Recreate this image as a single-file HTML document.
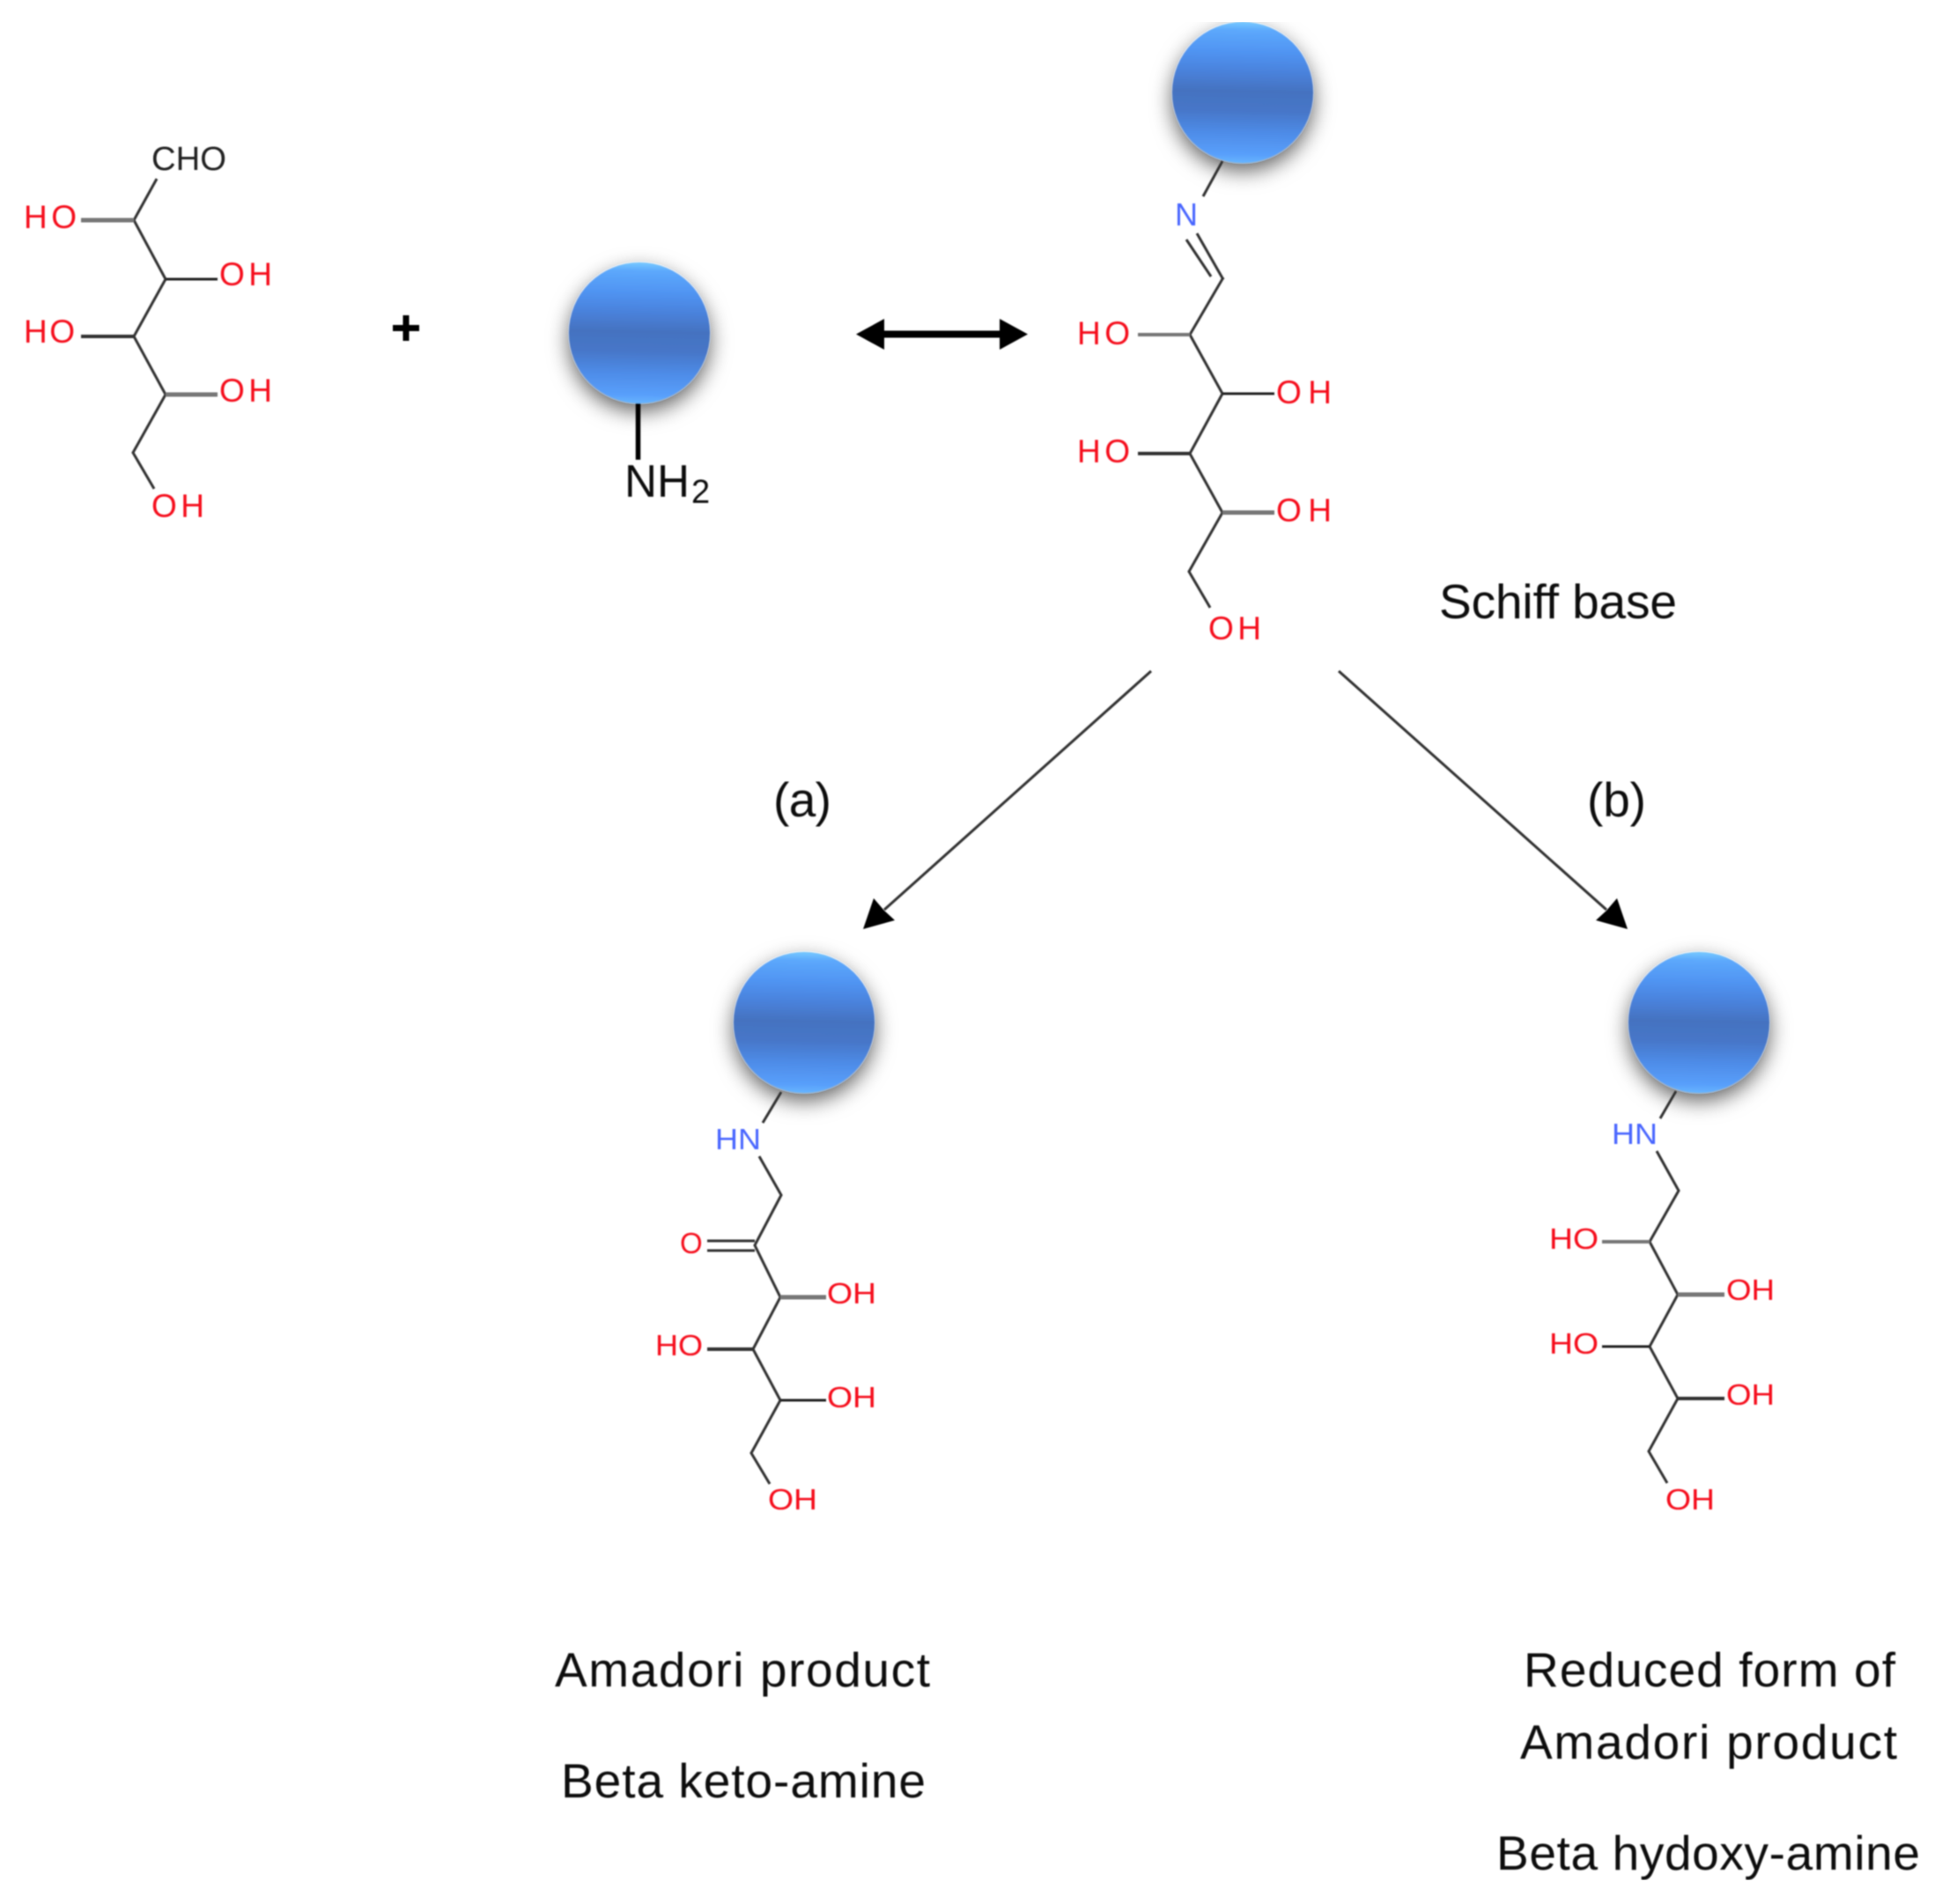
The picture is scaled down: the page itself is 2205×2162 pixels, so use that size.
<!DOCTYPE html>
<html><head><meta charset="utf-8"><title>Amadori reaction diagram</title>
<style>
html,body{margin:0;padding:0;background:#fff}
svg{display:block}
text{font-family:"Liberation Sans",Arial,sans-serif}
.r{fill:#f5101a;font-size:37px}
.r2{fill:#f5101a;font-size:33px}
.b{fill:#4a66ff;font-size:36px}
.b2{fill:#4a66ff;font-size:33px}
.l{fill:#111;font-size:55px}
.m{fill:none;stroke:#333;stroke-width:3}
.t{fill:none;stroke:#777;stroke-width:5}
.n{fill:none;stroke:#222;stroke-width:3}
</style></head><body>
<svg xmlns="http://www.w3.org/2000/svg" width="2205" height="2162" viewBox="0 0 2205 2162">
<defs>
<linearGradient id="g" x1="0.02" y1="0" x2="0" y2="1">
<stop offset="0" stop-color="#72c4ff"/>
<stop offset=".05" stop-color="#5ca8fc"/>
<stop offset=".2" stop-color="#5094f2"/>
<stop offset=".34" stop-color="#4a82dc"/>
<stop offset=".48" stop-color="#4472c0"/>
<stop offset=".62" stop-color="#4676c8"/>
<stop offset=".78" stop-color="#4e8ce8"/>
<stop offset=".93" stop-color="#589ffb"/>
<stop offset="1" stop-color="#68b8ff"/>
</linearGradient>
<filter id="s" x="-40%" y="-40%" width="180%" height="190%">
<feDropShadow dx="0" dy="9" stdDeviation="12" flood-color="#000" flood-opacity=".62"/>
</filter>
<filter id="bl" x="0" y="0" width="100%" height="100%"><feGaussianBlur stdDeviation="0.75"/></filter>
</defs>
<rect width="2205" height="2162" fill="#fff"/>
<g filter="url(#bl)">

<!-- Sugar 1 -->
<polyline class="m" points="178,203 152,250 188,317 152,382 188,448 151,514 175,555"/>
<line class="t" x1="92" y1="250" x2="152" y2="250"/>
<line class="n" x1="188" y1="317" x2="247" y2="317"/>
<line class="m" style="stroke-width:4" x1="92" y1="382" x2="152" y2="382"/>
<line class="t" x1="188" y1="448" x2="247" y2="448"/>
<text x="172" y="193" font-size="38" fill="#222" textLength="85" lengthAdjust="spacingAndGlyphs">CHO</text>
<text class="r" x="27" y="259" textLength="60">HO</text>
<text class="r" x="249" y="324" textLength="60">OH</text>
<text class="r" x="27" y="389" textLength="58">HO</text>
<text class="r" x="249" y="456" textLength="60">OH</text>
<text class="r" x="172" y="587" textLength="60">OH</text>
<rect x="446" y="369" width="30" height="7" fill="#000"/>
<rect x="457.500" y="358" width="7" height="29" fill="#000"/>

<!-- Sphere A -->
<circle cx="726" cy="378" r="80" fill="url(#g)" filter="url(#s)"/>
<line x1="724.500" y1="458" x2="724.500" y2="522" stroke="#000" stroke-width="5.500"/>
<text x="709" y="564" font-size="52" fill="#111" textLength="74" lengthAdjust="spacingAndGlyphs">NH</text>
<text x="785" y="571" font-size="38" fill="#111">2</text>

<!-- double arrow -->
<line x1="995" y1="379.500" x2="1145" y2="379.500" stroke="#000" stroke-width="8"/>
<polygon points="972,379.500 1004,362 1004,397" fill="#000"/>
<polygon points="1167,379.500 1135,362 1135,397" fill="#000"/>

<!-- Sphere B / Schiff base -->
<circle cx="1411" cy="105" r="80" fill="url(#g)" filter="url(#s)"/>
<line class="m" x1="1388" y1="183" x2="1366" y2="223"/>
<text class="b" x="1334" y="256" textLength="26" lengthAdjust="spacingAndGlyphs">N</text>
<line class="m" x1="1359" y1="265" x2="1389" y2="317.500"/>
<line class="m" x1="1347" y1="272" x2="1375" y2="314"/>
<polyline class="m" points="1389,315 1351,380 1388,447 1351,515 1388,582 1350,649 1374,690"/>
<line class="t" style="stroke-width:4" x1="1292" y1="380" x2="1351" y2="380"/>
<line class="n" x1="1388" y1="447" x2="1447" y2="447"/>
<line class="m" style="stroke-width:4" x1="1292" y1="515" x2="1351" y2="515"/>
<line class="t" x1="1388" y1="582" x2="1447" y2="582"/>
<text class="r" x="1223" y="391" textLength="60">HO</text>
<text class="r" x="1449" y="458" textLength="63">OH</text>
<text class="r" x="1223" y="525" textLength="60">HO</text>
<text class="r" x="1449" y="592" textLength="63">OH</text>
<text class="r" x="1372" y="726" textLength="60">OH</text>
<text class="l" x="1634" y="702" textLength="270">Schiff base</text>

<!-- branching arrows -->
<line x1="1307" y1="762" x2="1004" y2="1033" stroke="#333" stroke-width="3"/>
<polygon points="980,1055 992,1020 1004,1034 1016,1045" fill="#000"/>
<line x1="1520" y1="762" x2="1824" y2="1033" stroke="#333" stroke-width="3"/>
<polygon points="1848,1055 1836,1020 1824,1034 1812,1045" fill="#000"/>
<text class="l" x="878" y="927" textLength="66">(a)</text>
<text class="l" x="1802" y="927" textLength="67">(b)</text>

<!-- Sphere C / Amadori -->
<circle cx="913" cy="1161" r="80" fill="url(#g)" filter="url(#s)"/>
<line class="m" x1="887" y1="1240" x2="866" y2="1275"/>
<text class="b2" x="812" y="1305" textLength="52" lengthAdjust="spacingAndGlyphs">HN</text>
<polyline class="m" points="862,1313 887,1357 857,1414 886,1473 855,1532 886,1590 853,1650 874,1685"/>
<line class="m" x1="803" y1="1409" x2="857" y2="1409"/>
<line class="m" x1="803" y1="1420" x2="857" y2="1420"/>
<line class="t" x1="886" y1="1473" x2="938" y2="1473"/>
<line class="m" style="stroke-width:4" x1="803" y1="1532" x2="855" y2="1532"/>
<line class="n" x1="886" y1="1590" x2="938" y2="1590"/>
<text class="r2" x="772" y="1423" textLength="26">O</text>
<text class="r2" x="939" y="1480" textLength="56" lengthAdjust="spacingAndGlyphs">OH</text>
<text class="r2" x="744" y="1539" textLength="54" lengthAdjust="spacingAndGlyphs">HO</text>
<text class="r2" x="939" y="1598" textLength="56" lengthAdjust="spacingAndGlyphs">OH</text>
<text class="r2" x="872" y="1714" textLength="56" lengthAdjust="spacingAndGlyphs">OH</text>

<!-- Sphere D / Reduced -->
<circle cx="1929" cy="1161" r="80" fill="url(#g)" filter="url(#s)"/>
<line class="m" x1="1903" y1="1239" x2="1885" y2="1270"/>
<text class="b2" x="1830" y="1299" textLength="52" lengthAdjust="spacingAndGlyphs">HN</text>
<polyline class="m" points="1881,1307 1906,1352 1873,1410 1905,1470 1873,1529 1905,1588 1872,1648 1893,1684"/>
<line class="t" style="stroke-width:4" x1="1819" y1="1410" x2="1873" y2="1410"/>
<line class="t" x1="1905" y1="1470" x2="1958" y2="1470"/>
<line class="n" x1="1819" y1="1529" x2="1873" y2="1529"/>
<line class="m" style="stroke-width:4" x1="1905" y1="1588" x2="1958" y2="1588"/>
<text class="r2" x="1759" y="1418" textLength="56" lengthAdjust="spacingAndGlyphs">HO</text>
<text class="r2" x="1960" y="1476" textLength="55" lengthAdjust="spacingAndGlyphs">OH</text>
<text class="r2" x="1759" y="1537" textLength="56" lengthAdjust="spacingAndGlyphs">HO</text>
<text class="r2" x="1960" y="1595" textLength="55" lengthAdjust="spacingAndGlyphs">OH</text>
<text class="r2" x="1891" y="1714" textLength="56" lengthAdjust="spacingAndGlyphs">OH</text>

<!-- Labels -->
<text class="l" x="630" y="1915" textLength="426">Amadori product</text>
<text class="l" x="637" y="2041" textLength="414">Beta keto-amine</text>
<text class="l" x="1730" y="1915" textLength="422">Reduced form of</text>
<text class="l" x="1726" y="1997" textLength="428">Amadori product</text>
<text class="l" x="1699" y="2123" textLength="481">Beta hydoxy-amine</text>
</g>
</svg>
</body></html>
